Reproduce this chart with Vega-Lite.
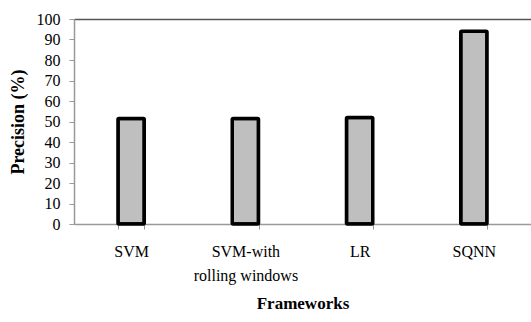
{
  "$schema": "https://vega.github.io/schema/vega-lite/v6.json",
  "width": 457,
  "height": 205,
  "autosize": {"type": "none"},
  "padding": {"left": 74, "top": 19, "right": 0, "bottom": 98},
  "background": "white",
  "config": {"view": {"stroke": null}, "font": "Liberation Serif"},
  "data": {"values": [
    {"framework": "SVM", "precision": 51.5},
    {"framework": "SVM-with rolling windows", "precision": 51.5},
    {"framework": "LR", "precision": 52},
    {"framework": "SQNN", "precision": 94}
  ]},
  "mark": {"type": "bar", "fill": "#bfbfbf", "stroke": "#000000", "strokeWidth": 3.5, "cornerRadius": 1},
  "encoding": {
    "x": {
      "field": "framework",
      "type": "nominal",
      "sort": null,
      "scale": {"paddingInner": 0.77, "paddingOuter": 0.385},
      "axis": {
        "title": "Frameworks",
        "titleFont": "Liberation Serif",
        "titleFontSize": 17,
        "titleFontWeight": "bold",
        "titleColor": "#000000",
        "titlePadding": 12,
        "labelFont": "Liberation Serif",
        "labelFontSize": 16,
        "labelColor": "#000000",
        "labelAngle": 0,
        "labelPadding": 14,
        "labelLineHeight": 24,
        "labelOverlap": false,
        "labelExpr": "datum.value == 'SVM-with rolling windows' ? ['SVM-with', 'rolling windows'] : datum.value",
        "tickBand": "extent",
        "tickSize": 5,
        "tickColor": "#999999",
        "domainColor": "#999999",
        "domainWidth": 1.5,
        "grid": false
      }
    },
    "y": {
      "field": "precision",
      "type": "quantitative",
      "scale": {"domain": [0, 100]},
      "axis": {
        "title": "Precision (%)",
        "titleFont": "Liberation Serif",
        "titleFontSize": 18,
        "titleFontWeight": "bold",
        "titleColor": "#000000",
        "titlePadding": 9,
        "labelFont": "Liberation Serif",
        "labelFontSize": 16,
        "labelColor": "#000000",
        "labelPadding": 9,
        "labelOverlap": false,
        "labelFlush": false,
        "values": [0, 10, 20, 30, 40, 50, 60, 70, 80, 90, 100],
        "tickSize": 5,
        "tickColor": "#999999",
        "domainColor": "#999999",
        "domainWidth": 1.5,
        "grid": true,
        "gridColor": "#555555",
        "gridWidth": 1.5,
        "gridOpacity": {"condition": {"test": "datum.value == 100", "value": 1}, "value": 0}
      }
    }
  }
}
